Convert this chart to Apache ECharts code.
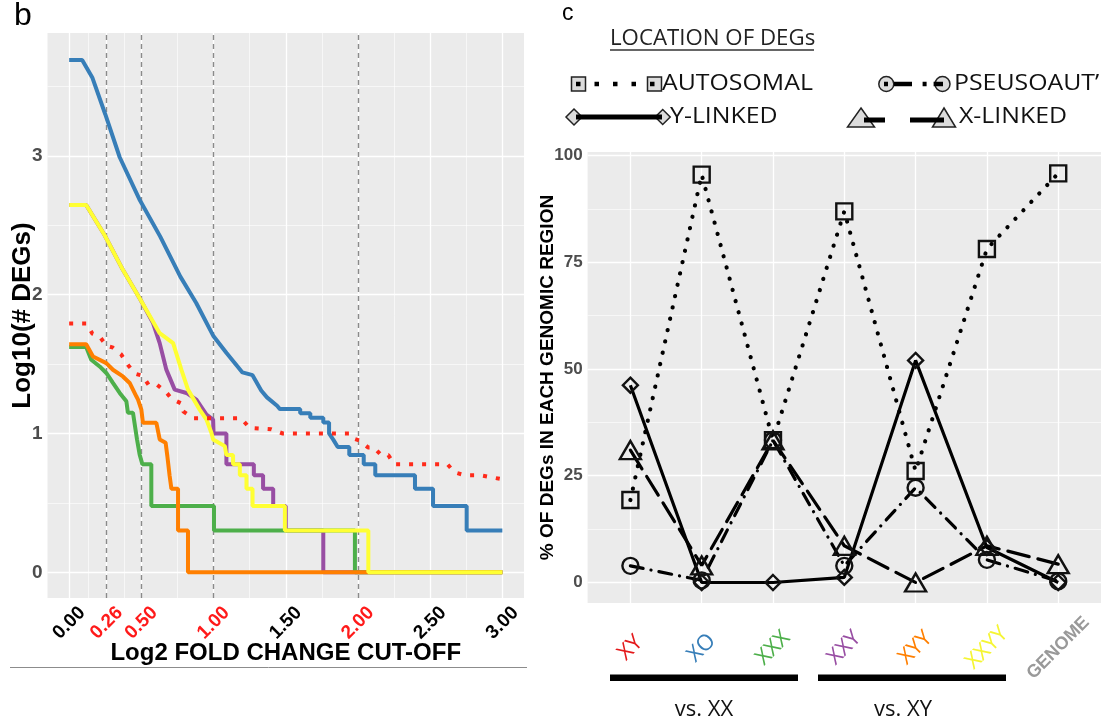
<!DOCTYPE html>
<html lang="en">
<head>
<meta charset="UTF-8">
<title>DEGs by fold change cut-off and genomic location</title>
<script src="https://cdn.jsdelivr.net/npm/echarts@6/dist/echarts.min.js"></script>
<style>
    html, body { margin: 0; padding: 0; background: #fff; }
    #main { width: 1101px; height: 722px; }
</style>
</head>
<body>
<div id="main"></div>
<script>
// ---- panel b: log10(# DEGs) against the log2 fold change cut-off ----
var cutXO = [[0,3.69],[0.09,3.69],[0.16,3.565],[0.25,3.30],[0.35,2.99],[0.49,2.68],[0.63,2.42],[0.77,2.13],[0.88,1.94],[1.0,1.70],[1.09,1.58],[1.2,1.44],[1.27,1.42],[1.33,1.31],[1.37,1.26],[1.44,1.20],[1.46,1.176],[1.6,1.176],[1.6,1.146],[1.67,1.146],[1.67,1.114],[1.76,1.114],[1.76,1.079],[1.8,1.079],[1.8,1.0],[1.83,0.954],[1.86,0.903],[1.94,0.903],[1.94,0.845],[2.04,0.845],[2.04,0.778],[2.12,0.778],[2.12,0.699],[2.395,0.699],[2.395,0.602],[2.52,0.602],[2.52,0.477],[2.753,0.477],[2.753,0.301],[3.0,0.301]];
var cutXXY = [[0,2.646],[0.118,2.646],[0.245,2.43],[0.373,2.177],[0.495,1.962],[0.581,1.795],[0.627,1.651],[0.673,1.46],[0.731,1.316],[0.812,1.292],[0.881,1.244],[0.951,1.136],[0.997,1.10],[1.0,1.0],[1.089,1.0],[1.089,0.778],[1.279,0.778],[1.279,0.699],[1.343,0.699],[1.343,0.602],[1.413,0.602],[1.413,0.477],[1.50,0.477],[1.50,0.301],[1.76,0.301],[1.76,0],[3.0,0]];
var cutXXX = [[0,1.623],[0.118,1.623],[0.153,1.531],[0.211,1.483],[0.257,1.436],[0.303,1.364],[0.35,1.292],[0.396,1.232],[0.407,1.149],[0.442,1.149],[0.47,0.957],[0.488,0.849],[0.507,0.778],[0.569,0.778],[0.569,0.477],[1.003,0.477],[1.003,0.301],[1.979,0.301],[1.979,0],[3.0,0]];
var cutXYY = [[0,1.643],[0.118,1.643],[0.165,1.555],[0.257,1.507],[0.303,1.459],[0.372,1.411],[0.419,1.364],[0.465,1.268],[0.477,1.244],[0.5,1.172],[0.511,1.077],[0.604,1.077],[0.627,0.957],[0.668,0.933],[0.68,0.837],[0.696,0.694],[0.708,0.602],[0.754,0.602],[0.754,0.301],[0.823,0.301],[0.823,0],[3.0,0]];
var cutXXYY = [[0,2.646],[0.118,2.646],[0.245,2.43],[0.373,2.177],[0.495,1.962],[0.627,1.723],[0.72,1.651],[0.777,1.46],[0.823,1.316],[0.904,1.172],[0.951,1.10],[0.985,1.005],[0.997,0.957],[1.078,0.909],[1.089,0.845],[1.135,0.845],[1.135,0.778],[1.182,0.778],[1.182,0.699],[1.228,0.699],[1.228,0.602],[1.27,0.602],[1.27,0.477],[1.494,0.477],[1.494,0.301],[2.072,0.301],[2.072,0],[3.0,0]];
var cutXY = [[0,1.792],[0.12,1.792],[0.16,1.72],[0.21,1.70],[0.26,1.63],[0.30,1.62],[0.36,1.57],[0.41,1.49],[0.46,1.43],[0.51,1.415],[0.55,1.35],[0.61,1.35],[0.67,1.30],[0.71,1.25],[0.78,1.215],[0.79,1.16],[0.86,1.11],[1.19,1.11],[1.20,1.10],[1.25,1.04],[1.40,1.03],[1.48,1.0],[1.95,1.0],[1.98,0.96],[2.01,0.95],[2.07,0.90],[2.11,0.90],[2.16,0.845],[2.21,0.845],[2.25,0.778],[2.62,0.778],[2.67,0.72],[2.74,0.699],[2.85,0.699],[3.0,0.67]];

var cutTicks = [0, 0.26, 0.5, 1, 1.5, 2, 2.5, 3];
var cutMinor = [0.13, 0.38, 0.75, 1.25, 1.75, 2.25, 2.75];
var cutRed = [0.26, 0.5, 1, 2];        // dashed guide lines + red labels
var degTicks = [0, 1, 2, 3];
var degMinor = [0.5, 1.5, 2.5, 3.5];

// ---- panel c: % of DEGs in each genomic region ----
var regions = ['XY', 'XO', 'XXX', 'XXY', 'XYY', 'XXYY', 'GENOME'];
var regionColors = ['#e41a1c', '#377eb8', '#4daf4a', '#984ea3', '#ff7f00', '#f5f532', '#999999'];
var pctAutosomal = [19.3, 95.5, 33.3, 86.9, 26.1, 78.1, 95.8];
var pctYLinked = [46.2, 0, 0, 1.2, 52, 8.2, 0];
var pctXLinked = [31, 4, 33.3, 8.6, 0, 8.6, 4.3];
var pctPseudo = [3.9, 0.5, 33.3, 3.9, 22.2, 5.3, 0.3];
var pctTicks = [0, 25, 50, 75, 100];
var pctMinor = [12.5, 37.5, 62.5, 87.5];

var chart = echarts.init(document.getElementById('main'));

function lines(key, vals, width) {
    return vals.map(function (v) {
        var d = { lineStyle: { color: '#ffffff', width: width, type: 'solid' } };
        d[key] = v;
        return d;
    });
}

function gridSeries(xi, xs, ys, xm, ym) {
    return {
        type: 'line', xAxisIndex: xi, yAxisIndex: xi, data: [], z: 1, silent: true,
        markLine: {
            z: 1, silent: true, symbol: ['none', 'none'], animation: false,
            label: { show: false },
            data: [].concat(lines('xAxis', xm, 0.6), lines('yAxis', ym, 0.6),
                lines('xAxis', xs, 1.3), lines('yAxis', ys, 1.3))
        }
    };
}

function curve(data, color, dotted) {
    return {
        type: 'line', xAxisIndex: 0, yAxisIndex: 0, data: data, showSymbol: false,
        z: 3, animation: false,
        lineStyle: { color: color, width: 4, type: dotted ? [4, 9] : 'solid', cap: 'butt' }
    };
}

function pairs(vals) {
    return vals.map(function (v, i) { return [i, v]; });
}

function pctSeries(vals, symbol, size, type, width) {
    return {
        type: 'line', xAxisIndex: 1, yAxisIndex: 1, data: pairs(vals), z: 3,
        symbol: symbol, symbolSize: size, animation: false,
        lineStyle: { color: '#000', width: width, type: type, cap: type === 'solid' ? 'butt' : 'round' },
        itemStyle: { color: 'rgba(0,0,0,0)', borderColor: '#111', borderWidth: 2.4 }
    };
}

var boldGrey = { color: '#4d4d4d', fontSize: 19, fontWeight: 'bold', fontFamily: 'Liberation Sans' };
var tick = { show: true, length: 4, lineStyle: { color: '#333', width: 1 } };

var regionRich = {};
regions.forEach(function (r, i) {
    regionRich['c' + i] = i === 6
        ? { color: regionColors[i], fontSize: 18, fontWeight: 'bold', fontFamily: 'Liberation Sans' }
        : { color: regionColors[i], fontSize: 22, fontFamily: 'Open Sans' };
});

var sans = 'Open Sans';

function legendText(text, x, y) {
    return {
        type: 'text', x: x, y: y, scaleX: 1.13,
        style: { text: text, font: '22px "' + sans + '"', fill: '#111', verticalAlign: 'middle' }
    };
}

var option = {
    backgroundColor: '#ffffff',
    animation: false,
    grid: [
        { left: 47.5, top: 33, width: 476.5, height: 565, show: true, backgroundColor: '#ebebeb', borderWidth: 0 },
        { left: 587.6, top: 152, width: 515.5, height: 451, show: true, backgroundColor: '#ebebeb', borderWidth: 0 }
    ],
    xAxis: [
        {
            type: 'value', gridIndex: 0, min: -0.15, max: 3.15,
            axisLine: { show: false }, splitLine: { show: false },
            axisTick: Object.assign({ customValues: cutTicks }, tick),
            axisLabel: {
                customValues: cutTicks, rotate: 45, margin: 25, align: 'center', verticalAlign: 'middle',
                formatter: function (v) {
                    var s = v.toFixed(2);
                    return cutRed.indexOf(v) >= 0 ? '{r|' + s + '}' : '{k|' + s + '}';
                },
                rich: {
                    r: { color: '#ff1a1a', fontSize: 19, fontWeight: 'bold', fontFamily: 'Liberation Sans' },
                    k: { color: '#000', fontSize: 19, fontWeight: 'bold', fontFamily: 'Liberation Sans' }
                }
            },
            name: 'Log2 FOLD CHANGE CUT-OFF', nameLocation: 'middle', nameGap: 43, nameMoveOverlap: false,
            nameTextStyle: { color: '#000', fontSize: 24, fontWeight: 'bold', fontFamily: 'Liberation Sans' }
        },
        {
            type: 'value', gridIndex: 1, min: -0.6, max: 6.6,
            axisLine: { show: false }, splitLine: { show: false },
            axisTick: Object.assign({ customValues: [0, 1, 2, 3, 4, 5, 6] }, tick),
            axisLabel: {
                customValues: [0, 1, 2, 3, 4, 5, 6], rotate: 45, margin: 45, align: 'center', verticalAlign: 'middle',
                formatter: function (v) { return '{c' + v + '|' + regions[v] + '}'; },
                rich: regionRich
            }
        }
    ],
    yAxis: [
        {
            type: 'value', gridIndex: 0, min: -0.185, max: 3.885,
            axisLine: { show: false }, splitLine: { show: false },
            axisTick: Object.assign({ customValues: degTicks }, tick),
            axisLabel: Object.assign({ customValues: degTicks, margin: 5 }, boldGrey),
            name: 'Log10(# DEGs)', nameLocation: 'middle', nameGap: 12, nameMoveOverlap: false,
            nameTextStyle: { color: '#000', fontSize: 26, fontWeight: 'bold', fontFamily: 'Liberation Sans' }
        },
        {
            type: 'value', gridIndex: 1, min: -4.8, max: 100.8,
            axisLine: { show: false }, splitLine: { show: false },
            axisTick: Object.assign({ customValues: pctTicks }, tick),
            axisLabel: Object.assign({ customValues: pctTicks, margin: 5 }, boldGrey, { fontSize: 17 }),
            name: '% OF DEGs IN EACH GENOMIC REGION', nameLocation: 'middle', nameGap: 30, nameMoveOverlap: false,
            nameTextStyle: { color: '#000', fontSize: 19, fontWeight: 'bold', fontFamily: 'Liberation Sans' }
        }
    ],
    series: [
        gridSeries(0, cutTicks, degTicks, cutMinor, degMinor),
        {
            type: 'line', xAxisIndex: 0, yAxisIndex: 0, data: [], z: 2, silent: true,
            markLine: {
                z: 2, silent: true, symbol: ['none', 'none'], animation: false, label: { show: false },
                lineStyle: { color: '#8a8a8a', width: 1.4, type: [5, 4] },
                data: cutRed.map(function (v) { return { xAxis: v }; })
            }
        },
        curve(cutXO, '#377eb8'),
        curve(cutXXY, '#984ea3'),
        curve(cutXXX, '#4daf4a'),
        curve(cutXYY, '#ff7f00'),
        curve(cutXXYY, '#ffff33'),
        curve(cutXY, '#ff2a1a', true),

        gridSeries(1, [0, 1, 2, 3, 4, 5, 6], pctTicks, [], pctMinor),
        pctSeries(pctAutosomal, 'rect', 16, [0.1, 11.5], 4.2),
        pctSeries(pctYLinked, 'diamond', 15, 'solid', 3.2),
        pctSeries(pctXLinked, 'triangle', [21, 18], [22, 9], 3.2),
        pctSeries(pctPseudo, 'circle', 16, [13, 8, 0.1, 8], 3.2)
    ],
    graphic: [
        // panel letters
        { type: 'text', x: 14, y: 0, style: { text: 'b', font: '32px "Liberation Sans"', fill: '#000' } },
        { type: 'text', x: 562, y: 2, style: { text: 'c', font: '23px "Liberation Sans"', fill: '#000' } },
        // rule under panel b
        { type: 'line', shape: { x1: 10, y1: 667.5, x2: 527, y2: 667.5 }, style: { stroke: '#8c8c8c', lineWidth: 1 } },

        // legend title
        { type: 'text', x: 610, y: 39, scaleX: 1.06, style: { text: 'LOCATION OF DEGs', font: '21px "' + sans + '"', fill: '#222', verticalAlign: 'middle' } },
        { type: 'line', shape: { x1: 610, y1: 50, x2: 814, y2: 50 }, style: { stroke: '#333', lineWidth: 1.5 } },

        // autosomal sample
        { type: 'rect', shape: { x: 571.5, y: 77, width: 14, height: 14 }, style: { fill: '#dcdcdc', stroke: '#222', lineWidth: 1.5 } },
        { type: 'rect', shape: { x: 647.5, y: 77, width: 14, height: 14 }, style: { fill: '#dcdcdc', stroke: '#222', lineWidth: 1.5 } },
        { type: 'line', shape: { x1: 576, y1: 84, x2: 656, y2: 84 }, style: { stroke: '#000', lineWidth: 4.5, lineDash: [4.5, 14] } },
        legendText('AUTOSOMAL', 662, 84),

        // pseudoautosomal sample
        { type: 'circle', shape: { cx: 886.3, cy: 84, r: 7.5 }, style: { fill: '#dcdcdc', stroke: '#222', lineWidth: 1.5 } },
        { type: 'circle', shape: { cx: 942.5, cy: 84, r: 7.5 }, style: { fill: '#dcdcdc', stroke: '#222', lineWidth: 1.5 } },
        { type: 'line', shape: { x1: 884, y1: 84, x2: 943, y2: 84 }, style: { stroke: '#000', lineWidth: 4.5, lineDash: [4, 6, 18, 10.6, 4, 7, 12, 40] } },
        legendText('PSEUSOAUT\u2019', 954, 84),

        // Y-linked sample
        { type: 'polygon', shape: { points: [[574, 109], [582, 117], [574, 125], [566, 117]] }, style: { fill: '#dcdcdc', stroke: '#222', lineWidth: 1.5 } },
        { type: 'polygon', shape: { points: [[662.7, 109.5], [670.2, 117], [662.7, 124.5], [655.2, 117]] }, style: { fill: '#dcdcdc', stroke: '#222', lineWidth: 1.5 } },
        { type: 'line', shape: { x1: 576, y1: 117, x2: 662, y2: 117 }, style: { stroke: '#000', lineWidth: 5 } },
        legendText('Y-LINKED', 670, 117),

        // X-linked sample
        { type: 'polygon', shape: { points: [[861, 108], [874.5, 127], [847.5, 127]] }, style: { fill: '#dcdcdc', stroke: '#222', lineWidth: 1.5 } },
        { type: 'polygon', shape: { points: [[944, 108], [955.5, 127], [932.5, 127]] }, style: { fill: '#dcdcdc', stroke: '#222', lineWidth: 1.5 } },
        { type: 'line', shape: { x1: 864, y1: 120, x2: 944, y2: 120 }, style: { stroke: '#000', lineWidth: 5, lineDash: [21, 25, 40] } },
        legendText('X-LINKED', 959, 117),

        // comparison brackets
        { type: 'rect', shape: { x: 610, y: 674.5, width: 188, height: 6.5 }, style: { fill: '#000' } },
        { type: 'rect', shape: { x: 818, y: 674.5, width: 188, height: 6.5 }, style: { fill: '#000' } },
        { type: 'text', x: 704, y: 710, style: { text: 'vs. XX', font: '22px "' + sans + '"', fill: '#111', align: 'center', verticalAlign: 'middle' } },
        { type: 'text', x: 903, y: 710, style: { text: 'vs. XY', font: '22px "' + sans + '"', fill: '#111', align: 'center', verticalAlign: 'middle' } }
    ]
};

chart.setOption(option);
</script>
</body>
</html>
